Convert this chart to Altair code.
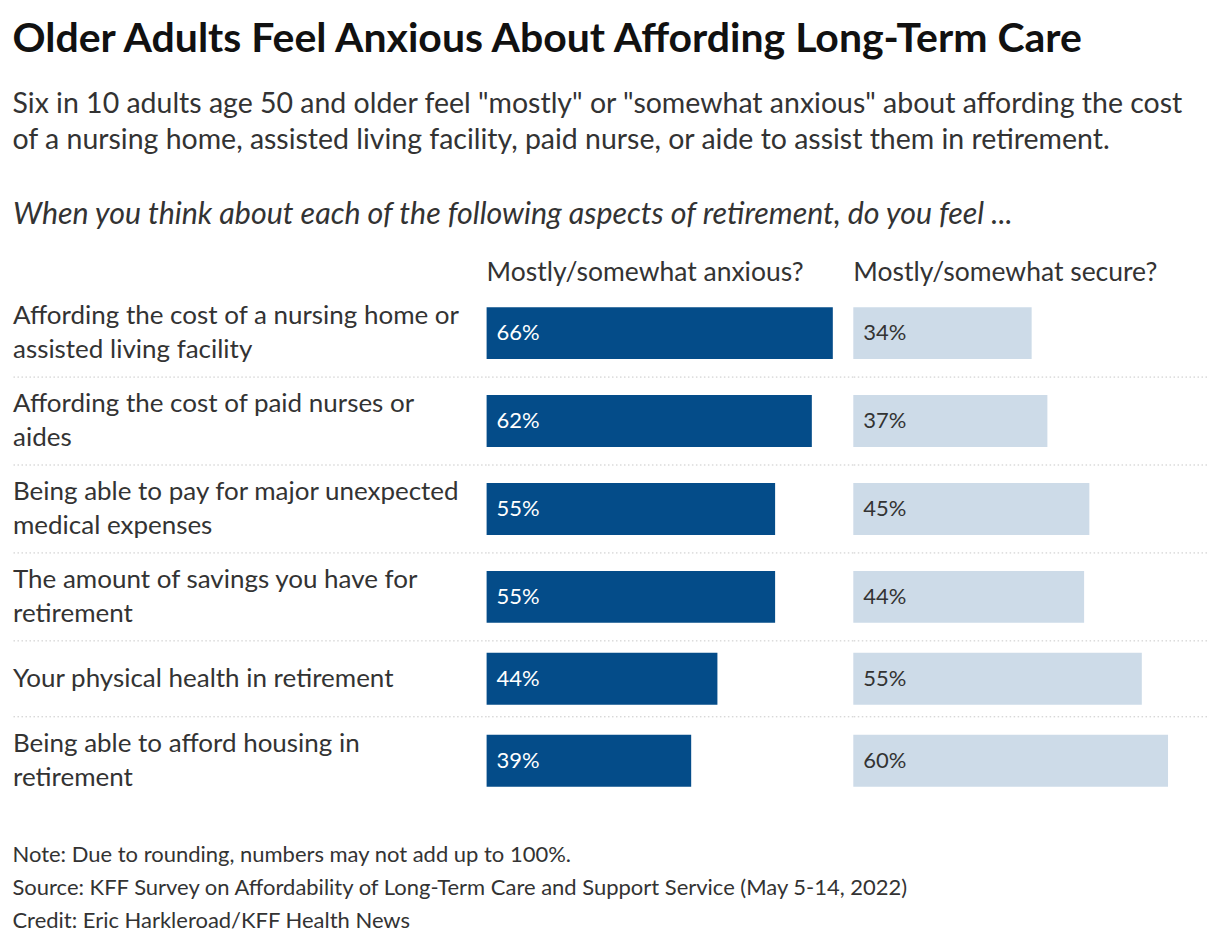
import altair as alt
import pandas as pd

labels = [
    "Affording the cost of a nursing home or\nassisted living facility",
    "Affording the cost of paid nurses or\naides",
    "Being able to pay for major unexpected\nmedical expenses",
    "The amount of savings you have for\nretirement",
    "Your physical health in retirement",
    "Being able to afford housing in\nretirement",
]
anxious = [66, 62, 55, 55, 44, 39]
secure = [34, 37, 45, 44, 55, 60]

title = "Older Adults Feel Anxious About Affording Long-Term Care"
subtitle = [
    'Six in 10 adults age 50 and older feel "mostly" or "somewhat anxious" about affording the cost',
    "of a nursing home, assisted living facility, paid nurse, or aide to assist them in retirement.",
]
question = "When you think about each of the following aspects of retirement, do you feel ..."
header_anx = "Mostly/somewhat anxious?"
header_sec = "Mostly/somewhat secure?"
notes = [
    "Note: Due to rounding, numbers may not add up to 100%.",
    "Source: KFF Survey on Affordability of Long-Term Care and Support Service (May 5-14, 2022)",
    "Credit: Eric Harkleroad/KFF Health News",
]

FONT = "Lato"
DARK = "#044c89"
LIGHT = "#cddbe8"
TXT = "#333333"
LINE_H = 34       # label line height
ROW_BASE = 76     # row height for a one-line label
ROW_EXTRA = 12    # extra row height per additional label line
BAR_W = 52

# row layout derived from how many lines each label wraps to
n_lines = [lab.count("\n") + 1 for lab in labels]
row_h = [ROW_BASE + ROW_EXTRA * (n - 1) for n in n_lines]
tops = [sum(row_h[:i]) for i in range(len(row_h))]
TOTAL = sum(row_h)

df = pd.DataFrame({
    "row": list(range(len(labels))),
    "label": labels,
    "anxious": anxious,
    "secure": secure,
    "top": tops,
})
df["mid"] = df["top"] + pd.Series(row_h) / 2
df["label_y"] = df["mid"] - (pd.Series(n_lines) - 1) * LINE_H / 2
df["zero"] = 0
df["anx_txt"] = df["anxious"].astype(str) + "%"
df["sec_txt"] = df["secure"].astype(str) + "%"

yscale = alt.Scale(domain=[0, TOTAL], reverse=True, nice=False, zero=False)

base = alt.Chart(df)

sep = base.transform_filter("datum.row > 0").mark_rule(
    color="#c8c8c8", strokeDash=[1.5, 2.5], strokeWidth=1
).encode(y=alt.Y("top:Q", axis=None, scale=yscale))

lab = base.mark_text(
    align="left", baseline="middle", font=FONT, fontSize=26, color=TXT, lineBreak="\n", lineHeight=LINE_H
).encode(x=alt.value(0), y=alt.Y("label_y:Q", axis=None, scale=yscale), text="label:N")

label_panel = alt.layer(sep, lab).properties(
    width=474, height=TOTAL,
    title=alt.TitleParams(question, anchor="start", frame="group", font=FONT, fontSize=30.4,
                          fontStyle="italic", fontWeight="normal", color=TXT, offset=59),
)

K = 5.25


def value_panel(field, txt_field, color, txt_color, width, header):
    xs = alt.Scale(domain=[0, width / K], nice=False)
    bar = base.mark_rule(strokeWidth=BAR_W, strokeCap="butt", color=color).encode(
        x=alt.X("zero:Q", axis=None, scale=xs), x2=f"{field}:Q",
        y=alt.Y("mid:Q", axis=None, scale=yscale))
    txt = base.mark_text(align="left", baseline="middle", dx=10, font=FONT, fontSize=22,
                         color=txt_color).encode(
        x=alt.value(0), y=alt.Y("mid:Q", axis=None, scale=yscale), text=f"{txt_field}:N")
    return alt.layer(sep, bar, txt).properties(
        width=width, height=TOTAL,
        title=alt.TitleParams(header, anchor="start", frame="group", font=FONT, fontSize=26.5,
                              fontWeight="normal", color=TXT, offset=3),
    )


anx_panel = value_panel("anxious", "anx_txt", DARK, "white", 367, header_anx)
sec_panel = value_panel("secure", "sec_txt", LIGHT, TXT, 354, header_sec)

body = alt.hconcat(label_panel, anx_panel, sec_panel, spacing=0, bounds="flush").properties(
    title=alt.TitleParams(notes, orient="bottom", anchor="start", font=FONT, fontSize=22,
                          fontWeight="normal", color=TXT, lineHeight=33, offset=40),
)

chart = alt.vconcat(body).properties(
    title=alt.TitleParams(title, subtitle=subtitle, anchor="start", font=FONT, fontSize=41,
                          fontWeight="bold", color="#111111", subtitleFont=FONT, subtitleFontSize=28.5,
                          subtitleColor=TXT, subtitleLineHeight=36, subtitlePadding=29, offset=44),
    padding={"left": 4, "top": 11, "right": 4, "bottom": 4},
    background="white",
).configure_view(stroke=None, strokeWidth=0)

chart.save("out.html", embed_options={"renderer": "svg", "actions": False})
